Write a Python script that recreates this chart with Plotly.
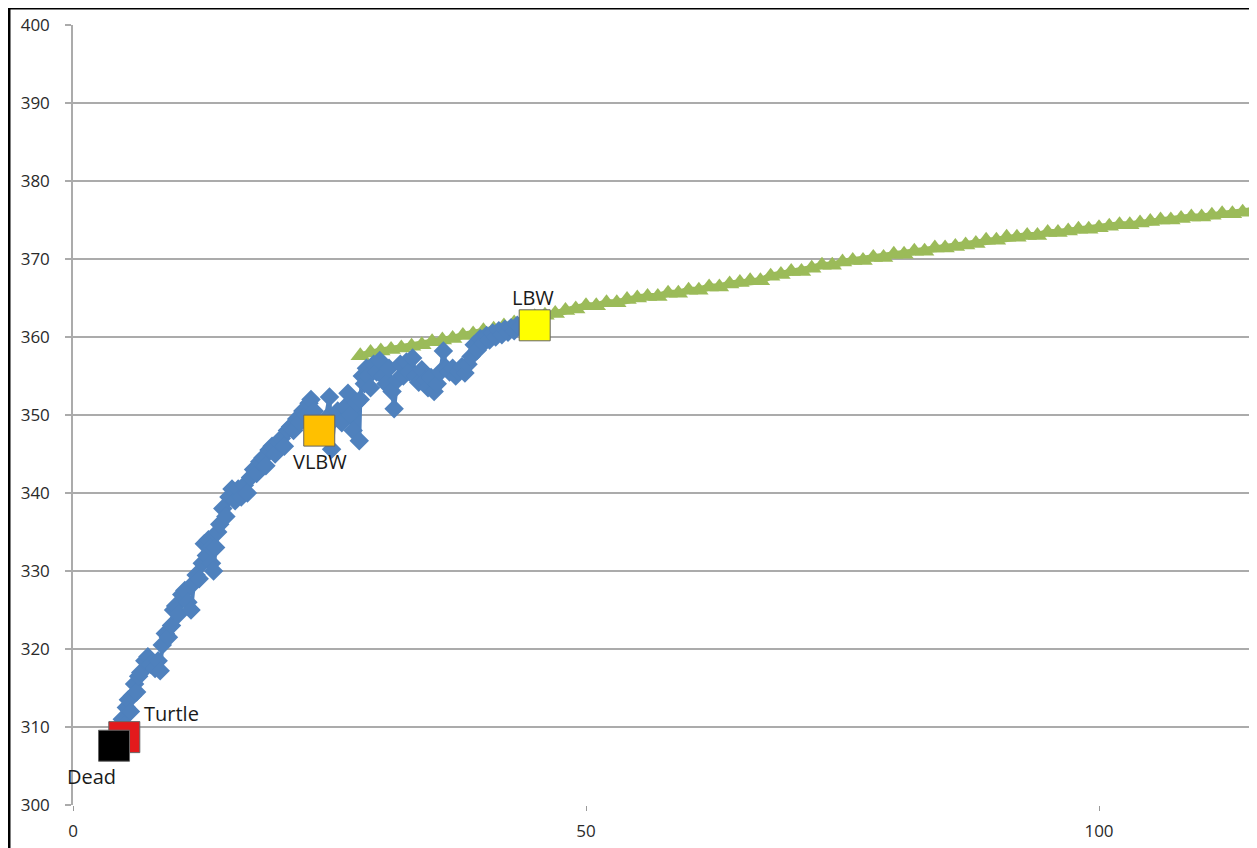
import plotly.graph_objects as go

# ---- data ----
blue_x = [4.5, 4.8, 5.0, 5.2, 5.4, 5.6, 5.8, 6.0, 6.2, 6.4, 6.6, 7.0, 7.3, 7.6, 8.0, 8.3, 8.5, 8.7, 9.0, 9.3,
          9.6, 9.8, 10.0, 10.3, 10.6, 10.9, 11.2, 11.5, 11.8, 12.0, 12.3, 12.6, 12.8, 13.0, 13.2, 13.4, 13.5,
          13.7, 13.9, 14.1, 14.3, 14.6, 14.9, 15.2, 15.5, 15.8, 16.1, 16.4, 16.7, 17.0, 17.3, 17.6, 17.9,
          18.2, 18.5, 18.8, 19.1, 19.4, 19.7, 20.0, 20.3, 20.6, 20.9, 21.2, 21.5, 21.8, 22.1, 22.4, 22.7,
          23.0, 23.2, 23.5, 23.8, 24.2, 24.6, 25.0, 25.2, 25.5, 25.8, 26.2, 26.5, 26.8, 27.0, 27.3, 27.6,
          27.9, 28.0, 28.2, 28.4, 28.6, 28.8, 29.0, 29.3, 29.6, 29.9, 30.2, 30.5, 30.8, 31.1, 31.3, 31.6,
          31.9, 32.2, 32.5, 32.8, 33.1, 33.4, 33.7, 34.0, 34.3, 34.6, 34.9, 35.2, 35.5, 35.8, 36.1, 36.4,
          36.7, 37.0, 37.3, 37.6, 37.9, 38.2, 38.5, 38.8, 39.1, 39.4, 39.7, 40.0, 40.3, 40.6, 40.9, 41.2,
          41.5, 41.8, 42.1, 42.4, 42.7, 43.0, 43.3, 43.6]
blue_y = [309.5, 311.0, 310.2, 312.5, 313.5, 312.0, 314.0, 315.5, 314.5, 316.5, 317.0, 318.5, 319.0, 318.0,
          317.5, 318.5, 317.2, 320.5, 322.0, 321.5, 323.0, 325.0, 325.5, 324.5, 327.0, 327.5, 326.0, 325.0,
          328.5, 329.5, 329.0, 331.0, 333.5, 332.0, 334.0, 333.0, 331.0, 330.0, 333.0, 335.0, 336.0, 338.0,
          337.0, 339.5, 340.5, 339.0, 340.5, 339.5, 341.0, 340.0, 342.0, 343.0, 342.5, 344.0, 344.5, 343.5,
          345.5, 346.0, 345.0, 346.5, 347.0, 346.0, 348.0, 348.5, 348.0, 349.5, 349.0, 350.5, 350.0, 351.5,
          352.0, 350.5, 349.0, 348.5, 349.5, 352.3, 345.6, 349.5, 350.5, 349.0, 351.0, 352.8, 350.0, 348.0,
          351.5, 346.7, 352.0, 355.0, 354.0, 356.0, 355.0, 353.5, 356.5, 355.5, 357.0, 355.0, 354.0, 356.0,
          353.0, 350.8, 354.5, 356.5, 355.0, 356.8, 355.5, 357.3, 355.0, 354.2, 355.8, 354.5, 353.5, 354.8,
          353.0, 354.0, 355.5, 358.2, 356.0, 355.5, 356.0, 355.0, 355.6, 356.2, 355.4, 356.5, 357.5, 359.0,
          358.3, 359.8, 359.2, 360.2, 359.6, 360.5, 360.0, 360.8, 360.3, 361.0, 360.6, 361.2, 360.8, 361.5,
          361.3]

green_x = list(range(28, 117))
green_y = [357.6, 358.0, 358.2, 358.4, 358.6, 358.8, 359.0, 359.4, 359.6, 359.8, 360.2, 360.4, 360.8, 361.0,
           361.4, 361.8, 362.2, 362.6, 362.8, 363.0, 363.4, 363.6, 364.0, 364.0, 364.4, 364.4, 364.8, 365.0,
           365.2, 365.2, 365.6, 365.6, 366.0, 366.0, 366.4, 366.4, 366.8, 367.0, 367.2, 367.2, 367.8, 368.0,
           368.4, 368.4, 368.8, 369.2, 369.2, 369.6, 369.8, 369.8, 370.2, 370.2, 370.6, 370.6, 371.0, 371.0,
           371.4, 371.4, 371.6, 371.8, 372.0, 372.4, 372.4, 372.8, 372.8, 373.0, 373.0, 373.4, 373.4, 373.6,
           373.8, 373.8, 374.0, 374.2, 374.4, 374.4, 374.6, 374.8, 375.0, 375.0, 375.2, 375.4, 375.4, 375.6,
           375.8, 375.8, 376.0, 376.2, 376.2]

point_names = ["Turtle", "Dead", "VLBW", "LBW"]
point_x = [5.0, 4.0, 24.0, 45.0]
point_y = [308.7, 307.6, 348.0, 361.5]
point_colors = ["#E31A1C", "#000000", "#FFC000", "#FFFF00"]

y_ticks = [300, 310, 320, 330, 340, 350, 360, 370, 380, 390, 400]
x_ticks = [0, 50, 100]

# ---- figure (page body adds an 8px offset) ----
W, H = 1249, 840
ML, MR, MT, MB = 65, 0, 17, 43
PX_PER_X = 10.26
FONT = "Open Sans, DejaVu Sans, sans-serif"

fig = go.Figure()
fig.add_trace(go.Scatter(x=green_x, y=green_y, mode="lines+markers",
                         line=dict(color="#9BBB59", width=7),
                         marker=dict(symbol="triangle-up", size=17, color="#9BBB59"),
                         hoverinfo="x+y"))
fig.add_trace(go.Scatter(x=blue_x, y=blue_y, mode="lines+markers",
                         line=dict(color="#4F81BD", width=4),
                         marker=dict(symbol="diamond", size=15, color="#4F81BD"),
                         hoverinfo="x+y"))
for i in range(len(point_names)):
    fig.add_trace(go.Scatter(x=[point_x[i]], y=[point_y[i]], mode="markers",
                             marker=dict(symbol="square", size=31, color=point_colors[i],
                                         line=dict(color="#666666", width=1)),
                             name=point_names[i]))

label_pos = {
    "Turtle": dict(xanchor="left", xshift=18, yshift=24),
    "Dead": dict(xanchor="center", xshift=-23, yshift=-31),
    "VLBW": dict(xanchor="center", xshift=1, yshift=-31),
    "LBW": dict(xanchor="center", xshift=-2, yshift=28),
}
for i, n in enumerate(point_names):
    p = label_pos[n]
    fig.add_annotation(x=point_x[i], y=point_y[i], text=n, showarrow=False,
                       xanchor=p["xanchor"], yanchor="middle",
                       xshift=p["xshift"], yshift=p["yshift"],
                       font=dict(family=FONT, size=20, color="#1a1a1a"))

# outer black frame (decoration)
pw = W - ML - MR
ph = H - MT - MB
fx0 = (1.0 - ML) / pw
fy1 = 1 + (MT - 0.0) / ph
fig.add_shape(type="rect", xref="paper", yref="paper", x0=fx0, x1=1.2, y0=-0.2, y1=fy1,
              line=dict(color="black", width=3), fillcolor="rgba(0,0,0,0)", layer="above")

fig.update_layout(
    width=W, height=H,
    margin=dict(l=ML, r=MR, t=MT, b=MB),
    paper_bgcolor="white", plot_bgcolor="white",
    showlegend=False,
    font=dict(family=FONT, size=17, color="#333333"),
)
fig.update_xaxes(range=[0, pw / PX_PER_X], tickvals=x_ticks, showgrid=False, zeroline=False,
                 showline=False, ticks="outside", ticklen=5, tickcolor="#9a9a9a", tickwidth=1,
                 ticklabelstandoff=6, tickfont=dict(family=FONT, size=17, color="#2a2a2a"))
fig.update_yaxes(range=[300, 400], tickvals=y_ticks, showgrid=True, gridcolor="#ababab", gridwidth=1.5,
                 zeroline=False, showline=True, linecolor="#ababab", linewidth=1.5,
                 ticks="outside", ticklen=6, tickcolor="#ababab", tickwidth=1.5,
                 ticklabelstandoff=12, tickfont=dict(family=FONT, size=17, color="#2a2a2a"))

fig.write_html("out.html")
